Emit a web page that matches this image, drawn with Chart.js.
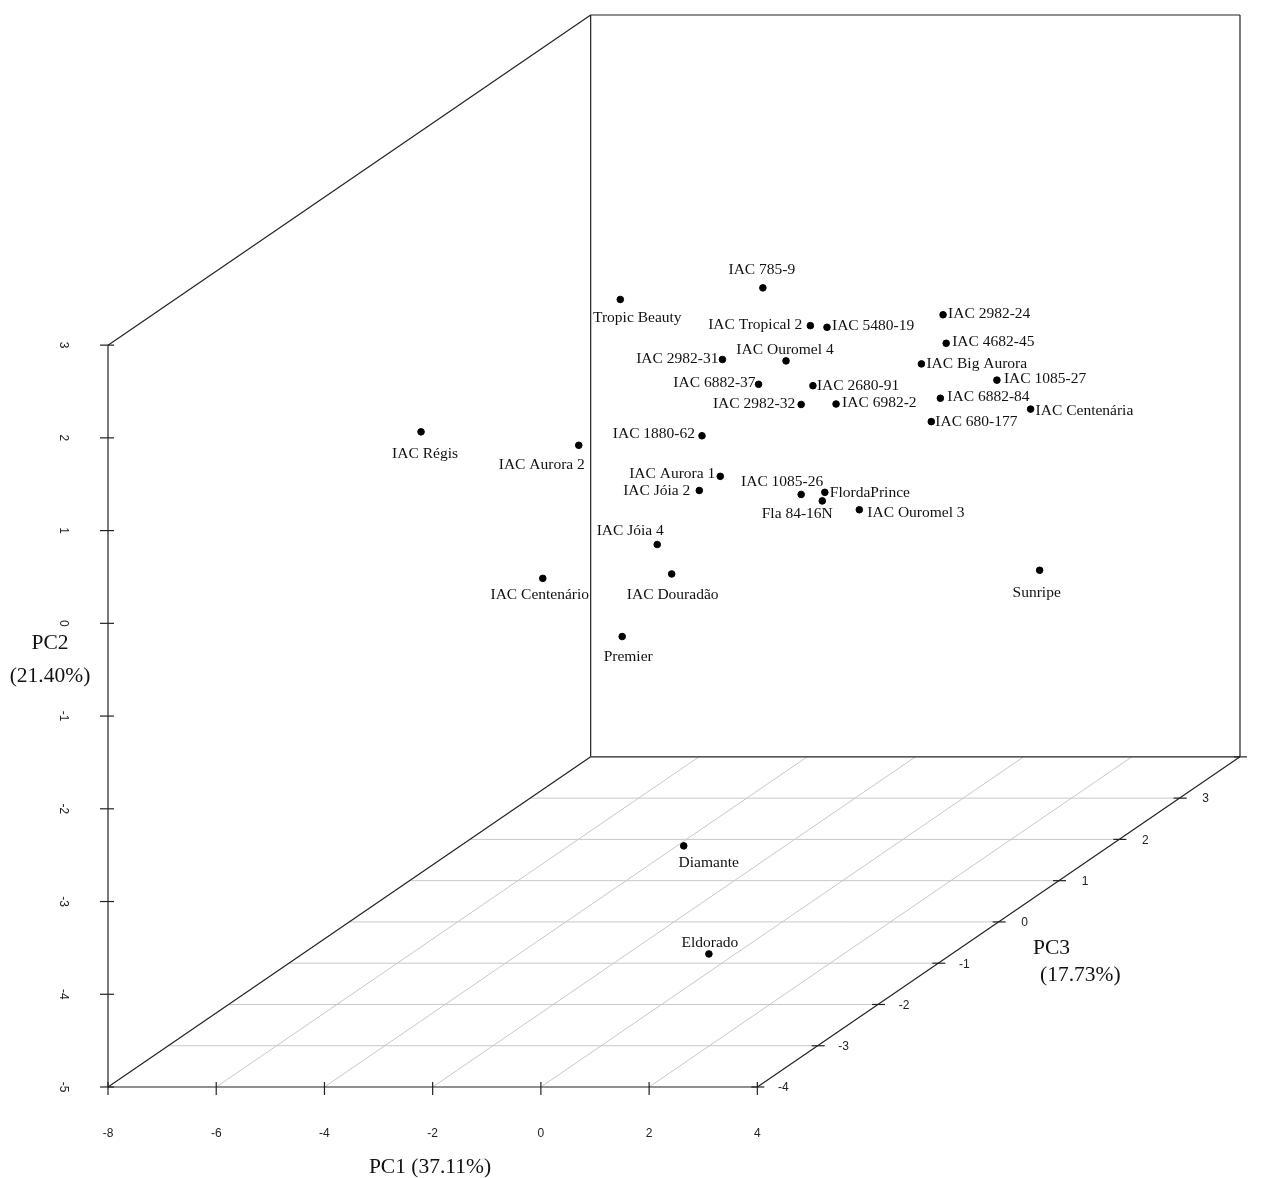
<!DOCTYPE html>
<html>
<head>
<meta charset="utf-8">
<script src="https://cdn.jsdelivr.net/npm/chart.js@4.4.1/dist/chart.umd.min.js"></script>
<style>
  body { margin: 0; background: #fff; }
  #wrap { position: relative; width: 1263px; height: 1178px; }
</style>
</head>
<body>
<div id="wrap"><canvas id="pcaChart"></canvas></div>
<script>
// PCA scores (PC1, PC2, PC3) per cultivar
const cultivars = ["IAC Régis", "IAC Aurora 2", "IAC Centenário", "Tropic Beauty", "IAC 785-9",
  "IAC Tropical 2", "IAC 5480-19", "IAC 2982-31", "IAC Ouromel 4", "IAC 6882-37", "IAC 2680-91",
  "IAC 2982-32", "IAC 6982-2", "IAC 1880-62", "IAC 2982-24", "IAC 4682-45", "IAC Big Aurora",
  "IAC 1085-27", "IAC 6882-84", "IAC Centenária", "IAC 680-177", "IAC Aurora 1", "IAC Jóia 2",
  "IAC 1085-26", "FlordaPrince", "Fla 84-16N", "IAC Ouromel 3", "IAC Jóia 4", "IAC Douradão",
  "Premier", "Sunripe", "Diamante", "Eldorado"];
const pc1 = [-5.56, -1.53, -1.08, -1.32, 0.20, 0.52, 0.27, 0.01, 0.07, 0.12, 0.01, 0.35, -0.12, 0.19,
  1.30, 0.80, 0.90, 1.18, 1.25, 2.36, 1.64, -0.03, 0.14, 0.35, 0.23, 0.74, 0.31, -0.08, -0.37, -0.17,
  1.97, 0.41, 1.99];
const pc2 = [0.73, 1.03, 0.04, 2.38, 2.06, 1.43, 1.19, 1.51, 1.05, 1.02, 0.56, 0.58, 0.14, 0.91,
  0.88, 0.35, 0.35, -0.27, -0.02, -0.36, -0.05, 0.25, 0.32, -0.39, -0.59, -0.46, -1.00, -0.04, -0.58,
  -0.81, -2.32, -3.29, -4.01];
const pc3 = [-1.0, -2.0, -3.0, -1.5, -0.5, 0.0, 0.5, -1.0, 0.0, -0.5, 0.5, 0.0, 1.0, -1.5,
  1.5, 2.0, 1.5, 2.5, 1.5, 2.0, 1.0, -1.0, -1.5, 0.0, 0.5, 0.0, 1.0, -2.0, -1.5,
  -2.5, 2.5, -2.0, -3.0];

// axis ticks
const pc1Ticks = [-8, -6, -4, -2, 0, 2, 4];
const pc2Ticks = [-5, -4, -3, -2, -1, 0, 1, 2, 3];
const pc3Ticks = [-4, -3, -2, -1, 0, 1, 2, 3, 4];

// label placement next to each dot: [align, dx, dy] in pixels
const labelPlace = [
  ["center", 4, 22], ["center", -37, 20], ["center", -3, 17], ["center", 17, 18], ["center", -1, -18],
  ["right", -8, -1], ["left", 5, -1], ["right", -4, -1], ["center", -1, -11], ["right", -3, -1],
  ["left", 4, 0], ["right", -6, -1], ["left", 6, -1], ["right", -7, -2], ["left", 5, -1],
  ["left", 6, -1], ["left", 5, 0], ["left", 7, -1], ["left", 7, -1], ["left", 5, 2],
  ["left", 4, 0], ["right", -5, -2], ["right", -9, 0], ["center", -19, -13], ["left", 5, 1],
  ["center", -25, 13], ["left", 8, 3], ["center", -27, -14], ["center", 1, 21], ["center", 6, 20],
  ["center", -3, 23], ["center", 25, 17], ["center", 1, -11]
];

// oblique projection of PC3 onto the page
const DEPTH_X = 1.115; // PC1 units per PC3 unit
const DEPTH_Y = 0.445; // PC2 units per PC3 unit
const X_MIN = -8, X_MAX = 4, Y_MIN = -5, Y_MAX = 3, Z_MIN = -4, Z_MAX = 4;

function proj(x, y, z) {
  return { x: x + (z - Z_MIN) * DEPTH_X, y: y + (z - Z_MIN) * DEPTH_Y };
}

const points = cultivars.map((name, i) => proj(pc1[i], pc2[i], pc3[i]));

const serif = "'Liberation Serif', 'Times New Roman', serif";
const sans = "'Liberation Sans', Arial, sans-serif";

const boxPlugin = {
  id: "box3d",
  beforeDatasetsDraw(chart) {
    const ctx = chart.ctx;
    const xs = chart.scales.x, ys = chart.scales.y;
    const P = (x, y, z) => {
      const p = proj(x, y, z);
      return [xs.getPixelForValue(p.x), ys.getPixelForValue(p.y)];
    };
    const line = (a, b) => {
      ctx.beginPath();
      ctx.moveTo(a[0], a[1]);
      ctx.lineTo(b[0], b[1]);
      ctx.stroke();
    };
    ctx.save();

    // floor grid
    ctx.strokeStyle = "#c8c8c8";
    ctx.lineWidth = 1;
    for (let x = -6; x <= 2; x += 2) line(P(x, Y_MIN, Z_MIN), P(x, Y_MIN, Z_MAX));
    for (let z = -3; z <= 3; z++) line(P(X_MIN, Y_MIN, z), P(X_MAX, Y_MIN, z));

    // box
    ctx.strokeStyle = "#222";
    ctx.lineWidth = 1.2;
    line(P(X_MIN, Y_MIN, Z_MIN), P(X_MAX, Y_MIN, Z_MIN));
    line(P(X_MIN, Y_MIN, Z_MIN), P(X_MIN, Y_MIN, Z_MAX));
    line(P(X_MIN, Y_MIN, Z_MAX), P(X_MAX, Y_MIN, Z_MAX));
    line(P(X_MAX, Y_MIN, Z_MIN), P(X_MAX, Y_MIN, Z_MAX));
    line(P(X_MIN, Y_MIN, Z_MIN), P(X_MIN, Y_MAX, Z_MIN));
    line(P(X_MIN, Y_MAX, Z_MIN), P(X_MIN, Y_MAX, Z_MAX));
    line(P(X_MIN, Y_MIN, Z_MAX), P(X_MIN, Y_MAX, Z_MAX));
    line(P(X_MIN, Y_MAX, Z_MAX), P(X_MAX, Y_MAX, Z_MAX));
    line(P(X_MAX, Y_MIN, Z_MAX), P(X_MAX, Y_MAX, Z_MAX));

    // ticks + tick labels
    ctx.fillStyle = "#222";
    ctx.font = "12px " + sans;
    ctx.textBaseline = "middle";
    ctx.textAlign = "center";
    pc1Ticks.forEach(t => {
      const p = P(t, Y_MIN, Z_MIN);
      line([p[0], p[1] - 5], [p[0], p[1] + 8]);
      ctx.fillText(String(t), p[0], p[1] + 47);
    });
    pc2Ticks.forEach(t => {
      const p = P(X_MIN, t, Z_MIN);
      line([p[0] - 8, p[1]], [p[0] + 6, p[1]]);
      ctx.save();
      ctx.translate(p[0] - 45, p[1]);
      ctx.rotate(Math.PI / 2);
      ctx.fillText(String(t), 0, 0);
      ctx.restore();
    });
    pc3Ticks.forEach(t => {
      const p = P(X_MAX, Y_MIN, t);
      line([p[0] - 6, p[1]], [p[0] + 7, p[1]]);
      ctx.fillText(String(t), p[0] + 26, p[1] + 1);
    });

    // axis titles
    const ca = chart.chartArea;
    ctx.fillStyle = "#111";
    ctx.font = "21.5px " + serif;
    ctx.textAlign = "center";
    ctx.fillText("PC1 (37.11%)", 430, ca.bottom + 80);
    ctx.fillText("PC2", ca.left - 58, 643);
    ctx.fillText("(21.40%)", ca.left - 58, 676);
    ctx.textAlign = "left";
    ctx.fillText("PC3", 1033, 948);
    ctx.fillText("(17.73%)", 1040, 975);
    ctx.restore();
  },
  afterDatasetsDraw(chart) {
    const ctx = chart.ctx;
    const meta = chart.getDatasetMeta(0);
    ctx.save();
    ctx.fillStyle = "#111";
    ctx.font = "15.5px " + serif;
    ctx.textBaseline = "middle";
    meta.data.forEach((el, i) => {
      const [align, dx, dy] = labelPlace[i];
      ctx.textAlign = align;
      ctx.fillText(cultivars[i], el.x + dx, el.y + dy);
    });
    ctx.restore();
  }
};

const ctx = document.getElementById("pcaChart").getContext("2d");
const pcaChart = new Chart(ctx, {
  type: "scatter",
  data: {
    datasets: [
      {
        label: "Cultivars",
        data: points,
        backgroundColor: "#000",
        borderColor: "#000",
        pointRadius: 3.3,
        pointHoverRadius: 3.3,
      },
    ],
  },
  options: {
    responsive: true,
    maintainAspectRatio: false,
    animation: false,
    layout: {
      padding: { left: 108, right: 23, top: 15, bottom: 91 },
    },
    scales: {
      x: { type: "linear", display: false, min: X_MIN, max: X_MAX + (Z_MAX - Z_MIN) * DEPTH_X },
      y: { type: "linear", display: false, min: Y_MIN, max: Y_MAX + (Z_MAX - Z_MIN) * DEPTH_Y },
    },
    plugins: {
      legend: { display: false },
      tooltip: { enabled: false },
    },
  },
  plugins: [boxPlugin],
});
</script>
</body>
</html>
